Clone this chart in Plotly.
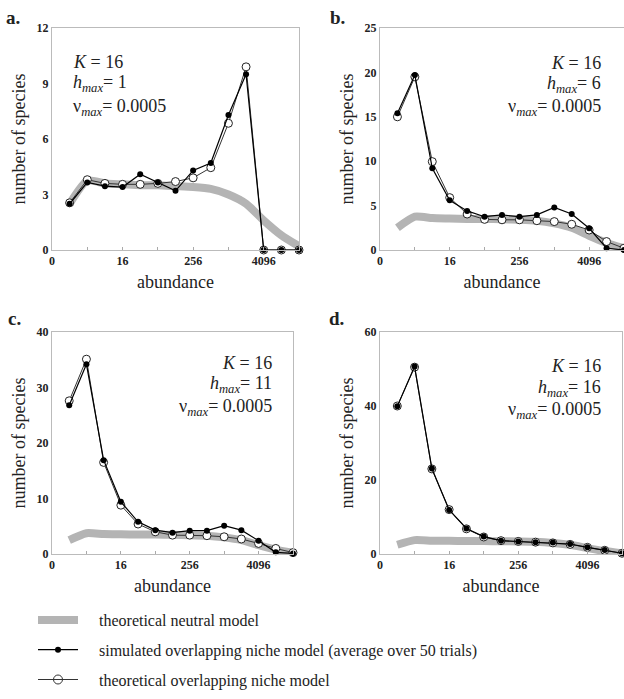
import plotly.graph_objects as go

W, H = 624, 699
octave = list(range(1, 15))
tick_vals = [0, 4, 8, 12]
tick_text = ["0", "16", "256", "4096"]

neutral = [2.5, 3.75, 3.6, 3.55, 3.5, 3.5, 3.45, 3.4, 3.3, 3.0, 2.5, 1.6, 0.8, 0.2]

sim_a = [2.5, 3.65, 3.45, 3.4, 4.1, 3.65, 3.2, 4.3, 4.7, 7.3, 9.5, 0, 0, 0]
the_a = [2.55, 3.8, 3.6, 3.55, 3.55, 3.6, 3.7, 3.9, 4.45, 6.85, 9.9, 0, 0, 0]
sim_b = [15.4, 19.7, 9.2, 5.6, 4.4, 3.75, 3.95, 3.75, 3.95, 4.8, 4.05, 2.45, 0.2, 0.0]
the_b = [15.0, 19.5, 9.95, 5.9, 4.05, 3.45, 3.4, 3.4, 3.3, 3.2, 2.9, 2.25, 0.95, 0.2]
sim_c = [26.8, 34.2, 16.9, 9.4, 5.8, 4.3, 3.85, 4.2, 4.2, 5.1, 4.3, 2.4, 0.3, 0.1]
the_c = [27.6, 35.1, 16.5, 8.8, 5.4, 4.0, 3.4, 3.4, 3.3, 3.1, 2.7, 1.9, 1.0, 0.25]
sim_d = [39.9, 50.7, 23.1, 11.9, 6.9, 4.7, 3.6, 3.4, 3.2, 3.1, 2.7, 1.8, 1.1, 0.2]
the_d = [40.0, 50.5, 23.0, 12.0, 6.8, 4.6, 3.6, 3.4, 3.2, 3.0, 2.6, 1.8, 1.0, 0.2]

panels = [
    ("a.", sim_a, the_a, [0, 12], 3, "1"),
    ("b.", sim_b, the_b, [0, 25], 5, "6"),
    ("c.", sim_c, the_c, [0, 40], 10, "11"),
    ("d.", sim_d, the_d, [0, 60], 20, "16"),
]

# pixel boxes: (left, right, top, bottom)
boxes = [(52, 299, 28, 250), (380, 626, 28, 250), (52, 293, 332, 554), (380, 622, 332, 554)]

SERIF = "Liberation Serif"
NB = "\u00a0\u00a0\u00a0\u00a0"
fig = go.Figure()
layout = dict(
    width=W, height=H, margin=dict(l=0, r=0, t=0, b=0, autoexpand=False),
    paper_bgcolor="white", plot_bgcolor="white",
    font=dict(family=SERIF, color="black"),
    showlegend=True,
    legend=dict(x=33 / W, y=1 - 603 / H, xanchor="left", yanchor="top",
                font=dict(family=SERIF, size=16, color="#222"),
                tracegroupgap=6, itemwidth=40, bgcolor="rgba(0,0,0,0)"),
)

def px(x):
    return x / W

def py(y):
    return 1 - y / H

annotations = []
for i, (lab, sim, the, yr, dy, hmax) in enumerate(panels):
    n = i + 1
    xa = "x" if n == 1 else f"x{n}"
    ya = "y" if n == 1 else f"y{n}"
    L, R, T, B = boxes[i]
    first = (i == 0)
    fig.add_trace(go.Scatter(x=octave, y=neutral, xaxis=xa, yaxis=ya, mode="lines",
                             line=dict(color="#b4b4b4", width=8, shape="spline", smoothing=0.6),
                             name=NB + "theoretical neutral model", legendgroup="g1",
                             showlegend=first, cliponaxis=False))
    fig.add_trace(go.Scatter(x=octave, y=the, xaxis=xa, yaxis=ya, mode="lines+markers",
                             line=dict(color="#333", width=1),
                             marker=dict(symbol="circle", size=8, color="white",
                                         line=dict(color="#222", width=1)),
                             name=NB + "theoretical overlapping niche model", legendgroup="g3",
                             showlegend=False, cliponaxis=False))
    fig.add_trace(go.Scatter(x=octave, y=sim, xaxis=xa, yaxis=ya, mode="lines+markers",
                             line=dict(color="black", width=1.2),
                             marker=dict(symbol="circle", size=6, color="black"),
                             name=NB + "simulated overlapping niche model (average over 50 trials)",
                             legendgroup="g2", showlegend=first, cliponaxis=False))
    if first:
        fig.add_trace(go.Scatter(x=[None], y=[None], xaxis=xa, yaxis=ya, mode="lines+markers",
                                 line=dict(color="#333", width=1),
                                 marker=dict(symbol="circle-open", size=9,
                                             line=dict(color="#222", width=1)),
                                 name=NB + "theoretical overlapping niche model", legendgroup="g3",
                                 showlegend=True))
    key = "" if n == 1 else str(n)
    layout["xaxis" + key] = dict(
        domain=[px(L), min(px(R), 1.0)], anchor=ya, range=[0, 14],
        tickvals=tick_vals, ticktext=tick_text, ticks="inside", ticklen=3,
        tickcolor="#aaa", showline=True, mirror=True, linecolor="#bbbbbb", linewidth=1,
        minor=dict(tickvals=[2, 6, 10], ticks="inside", ticklen=3, tickcolor="#aaa"),
        showgrid=False, zeroline=False, automargin=False,
        tickfont=dict(family=SERIF, size=12, weight="bold", color="#222"),
        title=dict(text="abundance", font=dict(family=SERIF, size=18, color="#222"), standoff=7),
    )
    layout["yaxis" + key] = dict(
        domain=[py(B), py(T)], anchor=xa, range=yr, dtick=dy,
        showline=True, mirror=True, linecolor="#bbbbbb", linewidth=1,
        showgrid=False, zeroline=False, ticks="", automargin=False,
        tickfont=dict(family=SERIF, size=12, weight="bold", color="#222"),
        title=dict(text="number of species", font=dict(family=SERIF, size=18, color="#222"),
                   standoff=6),
    )
    lx = [4, 328, 6, 327][i]
    ly = [17, 17, 318, 318][i]
    annotations.append(dict(x=px(lx), y=py(ly), xref="paper", yref="paper", text=f"<b>{lab}</b>",
                            showarrow=False, xanchor="left", yanchor="middle",
                            font=dict(family=SERIF, size=19, color="#222")))
    lines = ["<i>K</i> = 16", f"<i>h<sub>max</sub></i>= {hmax}",
             "ν<i><sub>max</sub></i>= 0.0005"]
    if i == 0:
        ax, anch, ys = 71, "left", [62, 84, 107]
    elif i == 1:
        ax, anch, ys = 603, "right", [63, 85, 107]
    elif i == 2:
        ax, anch, ys = 274, "right", [363, 385, 407]
    else:
        ax, anch, ys = 603, "right", [366, 388, 410]
    for t, yy in zip(lines, ys):
        annotations.append(dict(x=px(ax), y=py(yy), xref="paper", yref="paper", text=t,
                                showarrow=False, xanchor=anch, yanchor="middle",
                                font=dict(family=SERIF, size=18, color="#222")))

layout["annotations"] = annotations
fig.update_layout(**layout)
fig.write_html("out.html", config={"displayModeBar": False},
               post_script="document.body.style.margin='0';document.body.style.padding='0';"
                           "document.body.style.overflow='hidden';")
